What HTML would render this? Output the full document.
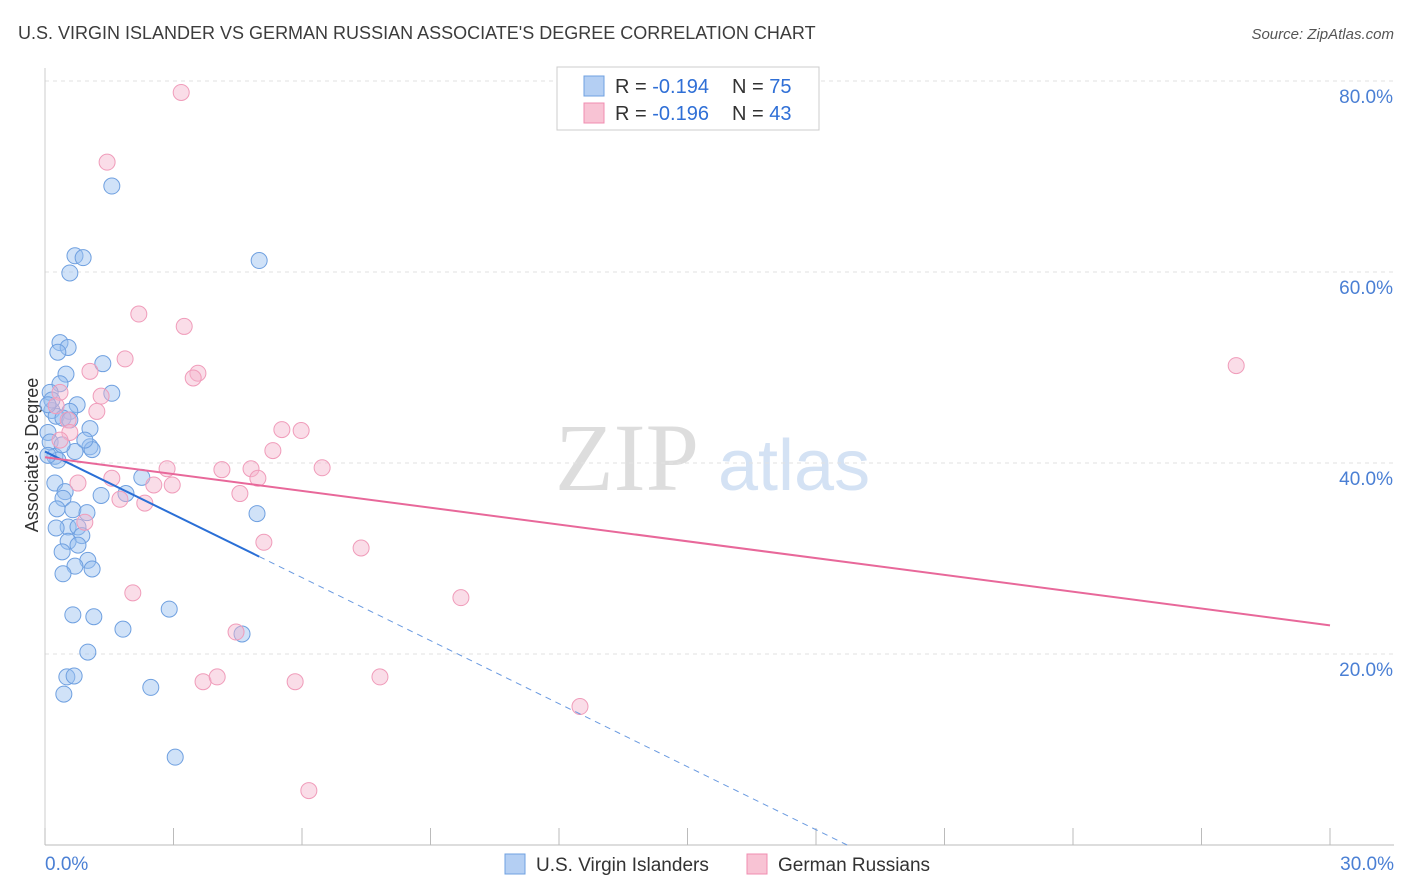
<!DOCTYPE html>
<html><head><meta charset="utf-8"><style>
body{margin:0;background:#fff;font-family:"Liberation Sans",sans-serif;}
svg{display:block}
</style></head><body>
<svg id="c" width="1406" height="892">
<text x="18" y="39" font-size="18" fill="#3c3c3c">U.S. VIRGIN ISLANDER VS GERMAN RUSSIAN ASSOCIATE'S DEGREE CORRELATION CHART</text>
<text x="1394" y="39" font-size="15" fill="#555" font-style="italic" text-anchor="end">Source: ZipAtlas.com</text>
<text x="38" y="455" font-size="18" fill="#333" text-anchor="middle" transform="rotate(-90 38 455)">Associate's Degree</text>
<g><text x="555" y="490" font-size="96" fill="#ddd" font-family="Liberation Serif,serif">ZIP</text><text x="718" y="490" font-size="72" fill="#d4e2f4">atlas</text></g>
<g id="grid"></g><g id="pts"></g><g id="trend"></g>
<g>
<rect x="557" y="67" width="262" height="63" fill="#fff" stroke="#ccc"/>
<rect x="584" y="76" width="20" height="20" fill="#b4cff3" stroke="#6fa0e0"/>
<rect x="584" y="103" width="20" height="20" fill="#f8c3d4" stroke="#f08cb0"/>
<text x="615" y="93" font-size="20" fill="#333">R = <tspan fill="#2f6fd6">-0.194</tspan></text>
<text x="732" y="93" font-size="20" fill="#333">N = <tspan fill="#2f6fd6">75</tspan></text>
<text x="615" y="120" font-size="20" fill="#333">R = <tspan fill="#2f6fd6">-0.196</tspan></text>
<text x="732" y="120" font-size="20" fill="#333">N = <tspan fill="#2f6fd6">43</tspan></text>
</g>
<g>
<rect x="505" y="854" width="20" height="20" fill="#b4cff3" stroke="#6fa0e0"/>
<text x="536" y="871" font-size="19" fill="#333">U.S. Virgin Islanders</text>
<rect x="747" y="854" width="20" height="20" fill="#f8c3d4" stroke="#f08cb0"/>
<text x="778" y="871" font-size="19" fill="#333">German Russians</text>
</g>
</svg>
<script>
const blueX=[1.56,0.70,0.89,0.58,5.00,0.35,0.54,0.30,1.35,0.49,0.35,1.56,0.12,0.75,0.16,0.58,0.26,0.42,0.58,1.05,0.07,1.05,1.10,0.12,0.23,0.70,0.30,0.07,0.23,0.47,0.42,1.31,1.89,2.26,0.28,0.65,0.98,4.95,0.54,0.26,0.77,0.86,0.54,0.77,0.40,1.00,0.70,1.10,0.42,2.90,0.65,1.14,1.82,4.60,1.00,0.51,0.68,2.47,0.44,3.04,0.16,0.07,0.40,0.93];
const blueY=[69.0,61.7,61.5,59.9,61.2,52.6,52.1,51.6,50.4,49.3,48.3,47.3,47.4,46.1,45.5,45.4,44.9,44.7,44.5,43.6,43.2,41.7,41.4,42.2,40.7,41.2,40.3,40.8,37.9,37.0,36.3,36.6,36.8,38.5,35.2,35.1,34.8,34.7,33.3,33.2,33.3,32.4,31.8,31.4,30.7,29.8,29.2,28.9,28.4,24.7,24.1,23.9,22.6,22.1,20.2,17.6,17.7,16.5,15.8,9.2,46.6,46.1,41.9,42.4];
const pinkX=[3.18,1.45,2.19,3.25,1.87,3.57,3.46,1.05,0.35,1.31,1.21,0.26,0.54,0.58,0.35,5.53,5.98,5.32,6.47,2.85,4.13,4.81,4.97,1.56,0.77,2.54,2.97,4.55,1.75,2.33,0.93,5.11,7.38,2.05,9.71,4.46,3.69,4.02,5.84,7.82,12.49,6.16,27.81];
const pinkY=[78.8,71.5,55.6,54.3,50.9,49.4,48.9,49.6,47.4,47.0,45.4,46.0,44.5,43.2,42.4,43.5,43.4,41.3,39.5,39.4,39.3,39.4,38.4,38.4,37.9,37.7,37.7,36.8,36.2,35.8,33.8,31.7,31.1,26.4,25.9,22.3,17.1,17.6,17.1,17.6,14.5,5.7,50.2];
const yTicks=[20,40,60,80];
const blueTrend=[41.2,30.2];
const pinkTrend=[40.6,23.0];
const NS="http://www.w3.org/2000/svg";
const sx=v=>45+v*1285/30, sy=v=>845-v*9.55;
function mk(tag,at,parent){const e=document.createElementNS(NS,tag);for(const k in at)e.setAttribute(k,at[k]);parent.appendChild(e);return e;}
const grid=document.getElementById('grid');
yTicks.forEach(t=>{
 const l=mk('line',{x1:45,x2:1394,y1:sy(t),y2:sy(t),stroke:'#e2e2e2','stroke-dasharray':'4,4'},grid);
 
 
 const tx=mk('text',{x:1393,y:sy(t)+22,'font-size':19,fill:'#4a7fd4','text-anchor':'end'},grid);tx.textContent=t.toFixed(1)+'%';
 
 
});
const ax=mk('line',{x1:45,x2:1394,y1:845,y2:845,stroke:'#bbb'},grid);


mk('line',{x1:45,x2:45,y1:68,y2:845,stroke:'#ccc'},grid);
for(let i=0;i<=10;i++){const t=mk('line',{x1:sx(i*3),x2:sx(i*3),y1:828,y2:845,stroke:'#bbb'},grid);
 
 }
const x0=mk('text',{x:45,y:870,'font-size':19,fill:'#4a7fd4'},grid);x0.textContent='0.0%';


const x1=mk('text',{x:1394,y:870,'font-size':19,fill:'#4a7fd4','text-anchor':'end'},grid);x1.textContent='30.0%';


const pts=document.getElementById('pts');
blueX.forEach((x,i)=>{const c=mk('circle',{cx:sx(x),cy:sy(blueY[i]),r:8,fill:'rgba(150,190,240,0.45)',stroke:'#6fa0e0','stroke-width':1},pts);
 
 });
pinkX.forEach((x,i)=>{const c=mk('circle',{cx:sx(x),cy:sy(pinkY[i]),r:8,fill:'rgba(245,180,205,0.45)',stroke:'#f09cba','stroke-width':1},pts);
 
 });
const tr=document.getElementById('trend');
const bs=(blueTrend[1]-blueTrend[0])/5, bx0=-blueTrend[0]/bs;
const b1=mk('line',{x1:sx(0),y1:sy(blueTrend[0]),x2:sx(5),y2:sy(blueTrend[1]),stroke:'#2a6fd6','stroke-width':2},tr);


const b2=mk('line',{x1:sx(5),y1:sy(blueTrend[1]),x2:sx(bx0),y2:sy(0),stroke:'#6a9ae0','stroke-width':1,'stroke-dasharray':'6,5'},tr);


const p1=mk('line',{x1:sx(0),y1:sy(pinkTrend[0]),x2:sx(30),y2:sy(pinkTrend[1]),stroke:'#e8689a','stroke-width':2},tr);


</script>
</body></html>
